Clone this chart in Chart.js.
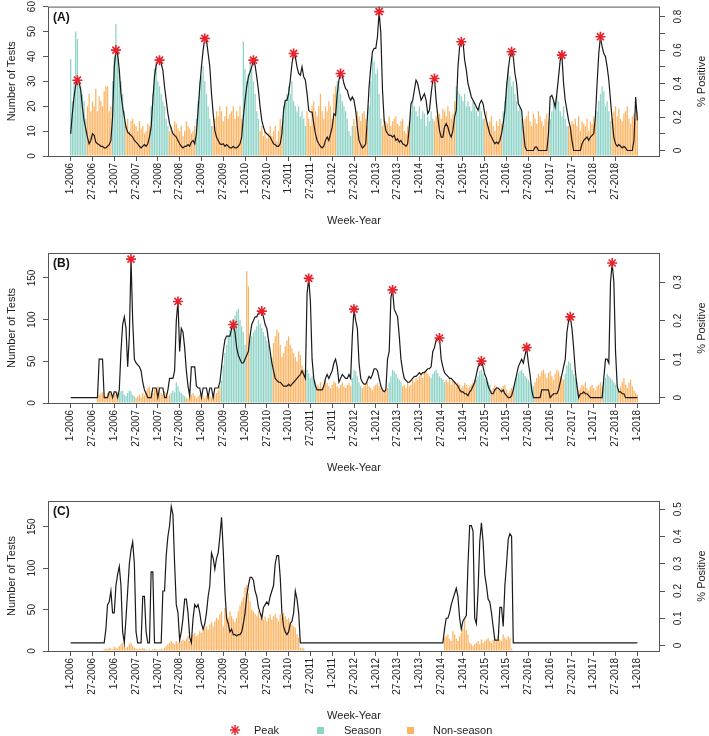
<!DOCTYPE html>
<html>
<head>
<meta charset="utf-8">
<script src="https://cdn.jsdelivr.net/npm/chart.js@4.4.1/dist/chart.umd.min.js"></script>
<style>
  body { margin: 0; background: #fff; }
  #wrap { position: relative; width: 709px; height: 736px; overflow: hidden; font-family: "Liberation Sans", Arial, Helvetica, sans-serif; color: #222; }
  #wrap canvas { position: absolute; left: 0; }
  .lg { position: absolute; font-size: 11px; line-height: 12px; top: 724px; }
  .sq { position: absolute; width: 7px; height: 7px; top: 727px; }
</style>
</head>
<body>
<div id="wrap">
  <canvas id="panelA" width="709" height="233" style="top:0px"></canvas>
  <canvas id="panelB" width="709" height="239" style="top:241px"></canvas>
  <canvas id="panelC" width="709" height="239" style="top:489px"></canvas>

  <svg style="position:absolute;left:229px;top:724px" width="12" height="12">
    <g stroke="#E8212B" stroke-width="1.5">
      <line x1="6" y1="1" x2="6" y2="11"/><line x1="1" y1="6" x2="11" y2="6"/>
      <line x1="2.5" y1="2.5" x2="9.5" y2="9.5"/><line x1="2.5" y1="9.5" x2="9.5" y2="2.5"/>
    </g>
  </svg>
  <div class="lg" style="left:254px">Peak</div>
  <div class="sq" style="left:317px;background:#8DD3C7"></div>
  <div class="lg" style="left:344px">Season</div>
  <div class="sq" style="left:407px;background:#FDB462"></div>
  <div class="lg" style="left:433px">Non-season</div>
</div>
<script>
// ---- data (one value per two-week period, 1-2006 onwards) ----
const xTickLabelsA = ['1-2006','27-2006','1-2007','27-2007','1-2008','27-2008','1-2009','27-2009','1-2010','27-2010',
  '1-2011','27-2011','1-2012','27-2012','1-2013','27-2013','1-2014','27-2014','1-2015','27-2015',
  '1-2016','27-2016','1-2017','27-2017','1-2018','27-2018'];
const xTickLabelsBC = ['1-2006','27-2006','1-2006','27-2007','1-2007','27-2008','1-2008','27-2009','1-2009','27-2010',
  '1-2010','27-2011','1-2011','27-2012','1-2012','27-2013','1-2013','27-2014','1-2014','27-2015',
  '1-2015','27-2016','1-2016','27-2017','1-2017','27-2018','1-2018'];

const leftTicksA = [0, 10, 20, 30, 40, 50, 60];
const leftTicksBC = [0, 50, 100, 150];
const rightTicksA = [0, 0.1, 0.2, 0.3, 0.4, 0.5, 0.6, 0.7, 0.8];
const rightLabelsA = ['0', '', '0.2', '', '0.4', '', '0.6', '', '0.8'];
const rightTicksB = [0, 0.1, 0.2, 0.3];
const rightTicksC = [0, 0.1, 0.2, 0.3, 0.4, 0.5];

// Panel A
const testsA = [39,22,30,50,47,30,28,25,22,15,
  20,25,18,22,20,27,18,24,22,20,26,28,28,18,20,
  30,40,53,42,35,30,25,18,
  12,15,10,14,15,13,12,10,14,11,12,9,10,13,12,
  20,25,35,38,30,28,25,22,20,15,12,
  10,12,9,14,13,11,10,12,8,10,14,12,11,9,10,12,
  15,22,30,32,36,30,25,20,15,12,
  12,15,18,16,20,18,14,16,20,15,17,18,20,15,18,16,20,15,
  46,35,30,33,38,35,30,25,18,15,
  10,12,8,10,7,9,12,8,10,12,6,10,15,12,
  20,22,25,28,25,30,22,20,18,20,16,18,15,12,
  18,15,12,20,22,18,16,20,25,18,15,20,18,22,20,15,25,28,
  30,28,25,22,20,18,15,10,8,12,
  15,12,18,16,14,17,18,15,12,
  20,30,40,38,33,35,25,15,
  12,15,14,13,16,12,14,15,16,13,12,14,15,10,9,12,14,
  18,22,20,18,16,20,15,18,17,12,16,14,18,15,
  14,16,18,17,15,19,18,16,20,18,15,17,22,
  28,26,25,24,22,25,20,22,20,18,22,20,18,16,20,18,15,
  15,18,12,14,16,12,10,14,12,15,13,
  18,22,30,36,32,28,30,25,22,18,20,15,
  12,15,16,18,14,12,17,15,13,18,16,14,12,15,17,14,
  15,18,22,20,24,22,18,16,20,15,12,
  12,10,14,13,15,12,16,10,14,13,12,15,10,14,13,16,15,
  18,22,25,28,26,20,22,18,14,
  15,18,20,16,19,15,14,17,18,20,15,13,16,17,15,18];
const positiveA = [0.10,0.22,0.32,0.39,0.42,0.41,0.36,0.26,0.18,0.13,
  0.08,0.04,0.06,0.10,0.09,0.05,0.04,0.035,0.025,0.025,
  0.015,0.015,0.025,0.035,0.06,0.20,0.50,0.60,0.58,0.48,
  0.34,0.26,0.20,0.14,0.11,0.10,0.09,0.08,0.06,0.05,
  0.04,0.025,0.015,0.025,0.035,0.025,0.04,0.08,0.14,0.30,
  0.44,0.51,0.53,0.54,0.52,0.48,0.38,0.30,0.22,0.16,
  0.13,0.10,0.09,0.08,0.06,0.04,0.025,0.015,0.025,0.025,
  0.035,0.025,0.05,0.06,0.04,0.10,0.24,0.38,0.50,0.60,
  0.67,0.66,0.58,0.50,0.34,0.22,0.12,0.08,0.06,0.04,
  0.035,0.04,0.025,0.035,0.025,0.015,0.015,0.025,0.015,0.015,
  0.025,0.04,0.08,0.20,0.30,0.38,0.44,0.47,0.50,0.54,
  0.51,0.44,0.36,0.26,0.18,0.14,0.11,0.10,0.09,0.08,
  0.06,0.04,0.035,0.025,0.025,0.04,0.10,0.24,0.30,0.30,
  0.34,0.42,0.52,0.58,0.56,0.50,0.46,0.45,0.50,0.44,
  0.42,0.34,0.24,0.23,0.23,0.16,0.10,0.06,0.04,0.025,
  0.015,0.025,0.06,0.08,0.06,0.10,0.14,0.22,0.21,0.34,
  0.42,0.46,0.45,0.40,0.37,0.36,0.32,0.30,0.32,0.30,
  0.24,0.14,0.06,0.035,0.015,0.025,0.04,0.20,0.38,0.50,
  0.59,0.61,0.61,0.68,0.83,0.70,0.36,0.18,0.12,0.10,
  0.09,0.09,0.08,0.09,0.06,0.07,0.05,0.06,0.04,0.035,
  0.025,0.04,0.14,0.28,0.30,0.36,0.42,0.40,0.35,0.30,
  0.32,0.34,0.30,0.22,0.24,0.34,0.42,0.43,0.30,0.20,
  0.12,0.08,0.08,0.14,0.16,0.14,0.10,0.08,0.12,0.20,
  0.24,0.50,0.62,0.65,0.65,0.54,0.48,0.40,0.36,0.32,
  0.30,0.28,0.26,0.24,0.28,0.30,0.28,0.22,0.18,0.14,
  0.10,0.08,0.06,0.04,0.05,0.04,0.06,0.10,0.16,0.24,
  0.38,0.48,0.56,0.59,0.56,0.46,0.40,0.28,0.26,0.24,
  0.12,0.025,0,0,0,0,0,0.02,0.02,0,
  0,0,0,0,0,0.10,0.32,0.33,0.30,0.26,
  0.34,0.44,0.54,0.57,0.40,0.30,0.24,0.18,0.14,0.06,
  0,0,0,0,0,0.04,0.06,0.07,0.08,0.06,
  0.08,0.09,0.10,0.20,0.40,0.58,0.68,0.62,0.58,0.56,
  0.50,0.42,0.30,0.18,0.08,0.04,0.025,0.035,0.025,0.015,
  0.025,0.015,0,0,0,0,0.06,0.32,0.18];
const seasonsA = [[0,9],[25,32],[48,58],[75,84],[103,112],[127,140],[159,168],[178,185],[203,216],[230,246],[258,269],[286,296],[314,322]];
const peaksA = [4,27,53,80,109,133,161,184,217,233,263,293,316];

// Panel B
const testsB = [0,0,0,0,0,0,0,0,0,0,0,0,0,0,0,0,
  8,10,12,13,10,8,12,13,11,9,12,10,13,
  12,14,15,10,8,12,15,14,10,8,
  6,8,10,7,12,9,15,18,20,14,12,16,18,20,15,12,10,14,12,8,10,
  12,15,13,25,20,14,12,10,8,
  6,5,8,10,12,9,6,8,10,12,8,6,9,10,8,7,9,10,12,15,20,
  27,45,60,70,80,88,95,100,105,110,113,100,92,85,70,
  158,140,
  75,80,85,88,92,100,95,90,85,80,75,70,60,55,
  72,80,88,85,70,55,60,68,75,80,70,65,60,55,50,62,58,45,40,38,
  40,35,30,32,28,25,
  22,20,25,18,22,27,24,20,18,22,26,24,20,18,22,25,20,18,22,24,20,
  30,40,38,32,25,20,
  18,20,22,25,20,18,15,20,22,24,20,18,15,12,15,18,
  25,32,40,38,35,30,28,25,
  20,22,18,25,20,22,28,25,30,28,32,35,30,38,40,35,32,
  30,35,38,40,36,32,30,28,25,
  28,25,30,22,26,24,20,25,22,18,20,24,22,18,20,22,25,28,
  28,32,38,40,35,30,28,25,22,
  15,18,22,20,16,14,18,20,22,16,12,15,18,20,
  25,30,35,38,40,36,32,30,28,25,22,20,
  25,30,35,32,38,40,35,30,36,38,32,28,35,40,38,32,30,28,
  35,45,50,48,40,35,30,25,
  15,18,22,20,25,18,15,20,22,18,15,20,22,25,20,
  25,30,35,32,30,28,25,22,20,
  15,20,25,30,22,18,25,28,20,15,12,10];
const positiveB = [0,0,0,0,0,0,0,0,0,0,
  0,0,0,0,0,0,0,0.1,0.1,0.1,
  0,0,0,0.015,0.015,0,0.015,0.015,0,0.02,
  0.12,0.19,0.21,0.18,0.08,0.16,0.36,0.2,0.1,0.09,
  0.085,0.08,0.07,0.04,0.02,0.01,0,0,0,0.025,
  0.025,0.025,0,0.025,0.025,0.025,0,0,0.02,0.05,
  0.05,0.05,0.07,0.2,0.25,0.12,0.18,0.17,0.13,0.07,
  0.03,0.005,0.08,0.08,0.08,0.03,0.025,0.025,0,0.025,
  0.025,0.025,0,0.025,0.025,0,0.025,0.025,0.025,0.04,
  0.08,0.12,0.15,0.16,0.16,0.16,0.18,0.19,0.17,0.13,
  0.11,0.1,0.09,0.09,0.1,0.11,0.12,0.16,0.19,0.2,
  0.21,0.21,0.22,0.22,0.225,0.21,0.19,0.18,0.15,0.12,
  0.09,0.07,0.05,0.045,0.04,0.04,0.035,0.03,0.03,0.03,
  0.035,0.03,0.035,0.04,0.045,0.05,0.055,0.06,0.07,0.06,
  0.05,0.27,0.31,0.25,0.1,0.05,0.03,0.02,0.02,0.02,
  0.02,0.03,0.05,0.06,0.05,0.06,0.07,0.09,0.1,0.08,
  0.04,0.05,0.06,0.055,0.05,0.05,0.06,0.05,0.16,0.23,
  0.2,0.18,0.09,0.05,0.04,0.035,0.035,0.045,0.055,0.05,
  0.06,0.075,0.075,0.07,0.05,0.03,0.02,0.015,0.02,0.1,
  0.12,0.26,0.28,0.23,0.22,0.21,0.16,0.1,0.07,0.05,
  0.045,0.04,0.04,0.045,0.05,0.055,0.055,0.06,0.065,0.06,
  0.065,0.065,0.07,0.075,0.075,0.08,0.12,0.13,0.15,0.155,
  0.155,0.1,0.08,0.065,0.06,0.055,0.05,0.05,0.045,0.04,
  0.035,0.03,0.02,0.015,0.015,0.01,0.01,0.005,0.015,0.02,
  0.03,0.04,0.06,0.08,0.085,0.095,0.08,0.06,0.05,0.03,
  0.02,0.01,0.01,0.02,0.025,0.025,0.02,0.015,0.02,0.01,
  0.005,0,0,0.005,0.02,0.04,0.06,0.08,0.09,0.1,
  0.09,0.11,0.13,0.09,0.06,0.02,0,0,0,0,
  0,0.02,0.02,0.02,0.02,0.02,0,0.005,0.01,0.01,
  0.01,0.02,0.04,0.06,0.08,0.1,0.17,0.2,0.21,0.18,
  0.13,0.07,0.03,0,0.01,0.01,0.015,0.01,0.01,0.005,
  0,0,0,0,0,0,0,0,0.05,0.1,
  0.1,0.09,0.3,0.35,0.3,0.12,0.03,0.015,0.015,0.01,
  0.01,0,0,0,0,0,0,0,0];
const seasonsB = [[29,38],[60,68],[90,104],[107,120],[141,146],[168,173],[190,197],[215,223],[242,250],[265,276],[295,302],[318,326]];
const peaksB = [36,64,97,114,142,169,192,220,245,272,298,323];

// Panel C
const testsC = [0,0,0,0,0,0,0,0,0,0,
  0,0,0,0,0,0,0,0,0,0,
  2,3,2,4,3,2,5,4,3,6,
  8,10,6,4,5,8,10,6,4,3,
  2,3,2,4,3,2,1,2,1,2,
  3,2,1,2,3,2,4,6,8,10,
  12,10,8,12,10,8,12,14,12,15,
  18,12,16,20,22,18,20,24,22,26,
  28,30,26,32,35,30,36,40,38,45,
  48,30,52,45,40,48,42,38,35,40,
  48,55,60,65,77,80,70,60,50,48,
  45,42,48,40,45,38,42,36,40,44,
  38,42,45,40,36,44,40,46,42,38,
  40,35,32,30,28,20,16,4,4,3,
  0,0,0,0,0,0,0,0,0,0,
  0,0,0,0,0,0,0,0,0,0,
  0,0,0,0,0,0,0,0,0,0,
  0,0,0,0,0,0,0,0,0,0,
  0,0,0,0,0,0,0,0,0,0,
  0,0,0,0,0,0,0,0,0,0,
  0,0,0,0,0,0,0,0,0,0,
  0,0,0,0,0,0,0,0,0,0,
  0,0,0,16,18,20,15,12,24,20,
  15,12,18,22,28,40,25,20,10,8,
  6,8,10,12,8,14,10,12,14,16,
  12,10,14,16,12,18,14,12,20,16,
  14,18,16,3,0,0,0,0,0,0,
  0,0,0,0,0,0,0,0,0,0,
  0,0,0,0,0,0,0,0,0,0,
  0,0,0,0,0,0,0,0,0,0,
  0,0,0,0,0,0,0,0,0,0,
  0,0,0,0,0,0,0,0,0,0,
  0,0,0,0,0,0,0,0,0,0,
  0,0,0,0,0,0,0,0,0];
const positiveC = [0.01,0.01,0.01,0.01,0.01,0.01,0.01,0.01,0.01,0.01,
  0.01,0.01,0.01,0.01,0.01,0.01,0.01,0.01,0.01,0.01,
  0.01,0.06,0.15,0.16,0.2,0.12,0.12,0.22,0.26,0.29,
  0.22,0.05,0.01,0.1,0.2,0.3,0.35,0.38,0.3,0.05,
  0.01,0.01,0.01,0.18,0.18,0.05,0.01,0.01,0.27,0.27,
  0.01,0.01,0.01,0.01,0.01,0.2,0.2,0.33,0.4,0.44,
  0.51,0.48,0.3,0.15,0.12,0.02,0.05,0.1,0.17,0.17,
  0.12,0.03,0.01,0.1,0.15,0.14,0.15,0.12,0.08,0.06,
  0.08,0.12,0.18,0.22,0.34,0.32,0.28,0.32,0.34,0.4,
  0.47,0.35,0.2,0.1,0.08,0.05,0.06,0.04,0.04,0.035,
  0.04,0.04,0.05,0.08,0.12,0.18,0.22,0.25,0.25,0.24,
  0.2,0.18,0.14,0.12,0.1,0.14,0.15,0.16,0.15,0.18,
  0.2,0.22,0.3,0.33,0.33,0.25,0.12,0.07,0.05,0.04,
  0.05,0.08,0.09,0.12,0.2,0.17,0.12,0.01,0.01,0.01,
  0.01,0.01,0.01,0.01,0.01,0.01,0.01,0.01,0.01,0.01,
  0.01,0.01,0.01,0.01,0.01,0.01,0.01,0.01,0.01,0.01,
  0.01,0.01,0.01,0.01,0.01,0.01,0.01,0.01,0.01,0.01,
  0.01,0.01,0.01,0.01,0.01,0.01,0.01,0.01,0.01,0.01,
  0.01,0.01,0.01,0.01,0.01,0.01,0.01,0.01,0.01,0.01,
  0.01,0.01,0.01,0.01,0.01,0.01,0.01,0.01,0.01,0.01,
  0.01,0.01,0.01,0.01,0.01,0.01,0.01,0.01,0.01,0.01,
  0.01,0.01,0.01,0.01,0.01,0.01,0.01,0.01,0.01,0.01,
  0.01,0.01,0.01,0.06,0.1,0.1,0.12,0.15,0.17,0.19,
  0.21,0.18,0.1,0.06,0.09,0.1,0.11,0.3,0.44,0.44,
  0.42,0.1,0.08,0.2,0.38,0.45,0.38,0.26,0.22,0.17,
  0.16,0.12,0.07,0.02,0.02,0.02,0.14,0.14,0.07,0.22,
  0.3,0.39,0.41,0.4,0.01,0.01,0.01,0.01,0.01,0.01,
  0.01,0.01,0.01,0.01,0.01,0.01,0.01,0.01,0.01,0.01,
  0.01,0.01,0.01,0.01,0.01,0.01,0.01,0.01,0.01,0.01,
  0.01,0.01,0.01,0.01,0.01,0.01,0.01,0.01,0.01,0.01,
  0.01,0.01,0.01,0.01,0.01,0.01,0.01,0.01,0.01,0.01,
  0.01,0.01,0.01,0.01,0.01,0.01,0.01,0.01,0.01,0.01,
  0.01,0.01,0.01,0.01,0.01,0.01,0.01,0.01,0.01,0.01,
  0.01,0.01,0.01,0.01,0.01,0.01,0.01,0.01,0.01];
const seasonsC = [];
const peaksC = [];

// ---- drawing ----
const SEASON_COLOR = '#8DD3C7';
const NONSEASON_COLOR = '#FDB462';
const PEAK_COLOR = '#E8212B';
const AXIS_COLOR = '#555';
const FONT = '"Liberation Sans", Arial, Helvetica, sans-serif';

Chart.defaults.font.family = FONT;
Chart.defaults.color = '#222';

function buildPanel(id, p) {
  const canvas = document.getElementById(id);
  const inSeason = i => p.seasons.some(([a, b]) => i >= a && i <= b);
  const lastIdx = p.tests.length - 1;
  const pad = lastIdx * 0.04;  // R style 4% range extension
  const xTicks = p.xLabels.map((_, k) => k * 13);

  // box, panel letter, rotated y labels, right axis title
  const decor = {
    id: 'decor_' + id,
    afterDraw(chart) {
      const {ctx, chartArea: a, scales} = chart;
      ctx.save();
      ctx.strokeStyle = AXIS_COLOR;
      ctx.lineWidth = 1;
      ctx.strokeRect(a.left + 0.5, a.top + 0.5, a.right - a.left - 1, a.bottom - a.top);

      ctx.fillStyle = '#111';
      ctx.font = 'bold 12px ' + FONT;
      ctx.textAlign = 'left';
      ctx.textBaseline = 'middle';
      ctx.fillText(p.letter, a.left + 5, a.top + 11);

      ctx.font = '10px ' + FONT;
      ctx.fillStyle = '#222';
      ctx.textAlign = 'center';
      const rot = (scale, ticks, labels, x) => {
        ticks.forEach((v, k) => {
          if (!labels[k]) return;
          ctx.save();
          ctx.translate(x, scale.getPixelForValue(v));
          ctx.rotate(-Math.PI / 2);
          ctx.fillText(labels[k], 0, 0);
          ctx.restore();
        });
      };
      rot(scales.y, p.leftTicks, p.leftTicks.map(String), a.left - 16);
      rot(scales.y1, p.rightTicks, p.rightLabels, a.right + 18);

      ctx.font = '11px ' + FONT;
      ctx.translate(702, (a.top + a.bottom) / 2);
      ctx.rotate(-Math.PI / 2);
      ctx.fillText('% Positive', 0, 0);
      ctx.restore();
    }
  };

  return new Chart(canvas, {
    type: 'bar',
    data: {
      datasets: [
        {
          type: 'scatter',
          data: p.peaks.map(i => ({x: i, y: p.positive[i]})),
          pointStyle: 'star',
          pointRadius: 5,
          borderColor: PEAK_COLOR,
          backgroundColor: PEAK_COLOR,
          borderWidth: 1.6,
          yAxisID: 'y1',
          clip: false,
          order: 1
        },
        {
          type: 'line',
          data: p.positive.map((v, i) => ({x: i, y: v})),
          borderColor: '#1a1a1a',
          borderWidth: 1.2,
          pointRadius: 0,
          tension: 0,
          yAxisID: 'y1',
          order: 2
        },
        {
          type: 'bar',
          data: p.tests.map((v, i) => ({x: i, y: v})),
          backgroundColor: p.tests.map((v, i) => inSeason(i) ? SEASON_COLOR : NONSEASON_COLOR),
          barPercentage: 0.75,
          categoryPercentage: 1,
          yAxisID: 'y',
          order: 3
        }
      ]
    },
    options: {
      responsive: false,
      devicePixelRatio: 1,
      animation: false,
      layout: { padding: { top: p.padTop, left: 0, right: 0, bottom: 0 } },
      plugins: { legend: { display: false }, tooltip: { enabled: false } },
      scales: {
        x: {
          type: 'linear',
          offset: false,
          min: -pad,
          max: lastIdx + pad,
          afterBuildTicks: s => { s.ticks = xTicks.map(v => ({value: v})); },
          afterFit: s => { s.height = 77; },
          grid: { offset: false, drawOnChartArea: false, drawTicks: true, tickLength: 5, color: AXIS_COLOR },
          border: { display: false },
          ticks: {
            autoSkip: false, minRotation: 90, maxRotation: 90, padding: 2,
            font: { size: 10 }, color: '#222',
            callback: (v, k) => p.xLabels[k]
          },
          title: { display: true, text: 'Week-Year', font: { size: 11 }, color: '#222', padding: { top: 0, bottom: 5 } }
        },
        y: {
          position: 'left',
          min: 0,
          max: p.leftMax,
          afterBuildTicks: s => { s.ticks = p.leftTicks.map(v => ({value: v})); },
          afterFit: s => { s.width = 48; },
          grid: { drawOnChartArea: false, drawTicks: true, tickLength: 5, color: AXIS_COLOR },
          border: { display: false },
          ticks: { display: false },
          title: { display: true, text: 'Number of Tests', font: { size: 11 }, color: '#222', padding: { top: 5, bottom: 0 } }
        },
        y1: {
          position: 'right',
          min: p.rightMin,
          max: p.rightMax,
          afterBuildTicks: s => { s.ticks = p.rightTicks.map(v => ({value: v})); },
          afterFit: s => { s.width = 49; },
          grid: { drawOnChartArea: false, drawTicks: true, tickLength: 5, color: AXIS_COLOR },
          border: { display: false },
          ticks: { display: false }
        }
      }
    },
    plugins: [decor]
  });
}

buildPanel('panelA', {
  letter: '(A)', tests: testsA, positive: positiveA, seasons: seasonsA, peaks: peaksA,
  xLabels: xTickLabelsA, leftTicks: leftTicksA, leftMax: 60,
  rightTicks: rightTicksA, rightLabels: rightLabelsA, rightMin: -0.033, rightMax: 0.86, padTop: 6
});
buildPanel('panelB', {
  letter: '(B)', tests: testsB, positive: positiveB, seasons: seasonsB, peaks: peaksB,
  xLabels: xTickLabelsBC, leftTicks: leftTicksBC, leftMax: 180,
  rightTicks: rightTicksB, rightLabels: rightTicksB.map(String), rightMin: -0.014, rightMax: 0.376, padTop: 12
});
buildPanel('panelC', {
  letter: '(C)', tests: testsC, positive: positiveC, seasons: seasonsC, peaks: peaksC,
  xLabels: xTickLabelsBC, leftTicks: leftTicksBC, leftMax: 181,
  rightTicks: rightTicksC, rightLabels: rightTicksC.map(String), rightMin: -0.02, rightMax: 0.53, padTop: 12
});
</script>
</body>
</html>
